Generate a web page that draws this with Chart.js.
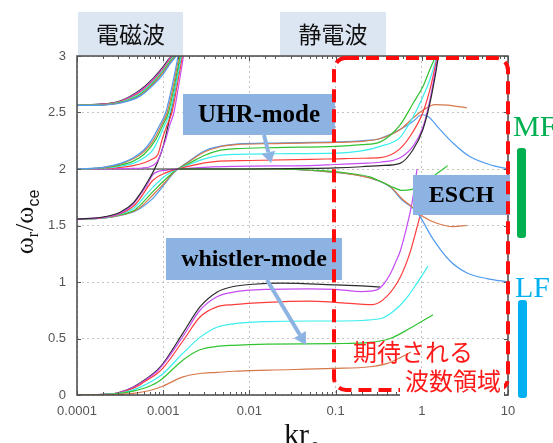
<!DOCTYPE html>
<html><head><meta charset="utf-8">
<script src="https://cdn.jsdelivr.net/npm/chart.js@4.4.0/dist/chart.umd.min.js"></script>
<style>html,body{margin:0;padding:0;background:#fff;}canvas{display:block}</style>
</head><body>
<canvas id="c" width="553" height="443"></canvas>
<script>
// ---- axis tick labels ----
const xTickLabels = ['0.0001','0.001','0.01','0.1','1','10'];
const yTickLabels = ['0','0.5','1','1.5','2','2.5','3'];

// ---- upper electromagnetic branch (starts ~2.56) : [k, w/wce] ----
const emTopBlue    = [[1e-4,2.562],[2e-4,2.566],[3.2e-4,2.584],[5.4e-4,2.645],[7.6e-4,2.74],[1e-3,2.84],[1.2e-3,2.93],[1.42e-3,3.0]];
const emTopOrange  = [[1e-4,2.563],[2e-4,2.567],[3.2e-4,2.586],[5.4e-4,2.65],[7.6e-4,2.75],[1e-3,2.855],[1.2e-3,2.94],[1.4e-3,3.0]];
const emTopGreen   = [[1e-4,2.564],[2e-4,2.568],[3.2e-4,2.589],[5.4e-4,2.66],[7.6e-4,2.76],[1e-3,2.865],[1.2e-3,2.95],[1.37e-3,3.0]];
const emTopCyan    = [[1e-4,2.565],[2e-4,2.57],[3.2e-4,2.593],[5.4e-4,2.67],[7.6e-4,2.77],[1e-3,2.875],[1.2e-3,2.96],[1.34e-3,3.0]];
const emTopRed     = [[1e-4,2.566],[2e-4,2.572],[3.2e-4,2.597],[5.4e-4,2.68],[7.6e-4,2.78],[1e-3,2.885],[1.2e-3,2.97],[1.31e-3,3.0]];
const emTopMagenta = [[1e-4,2.567],[2e-4,2.574],[3.2e-4,2.6],[5.4e-4,2.69],[7.6e-4,2.79],[1e-3,2.895],[1.2e-3,2.98],[1.28e-3,3.0]];
const emTopBlack   = [[1e-4,2.568],[2e-4,2.576],[3.2e-4,2.604],[5.4e-4,2.7],[7.6e-4,2.8],[1e-3,2.905],[1.15e-3,2.97],[1.25e-3,3.0]];

// ---- electromagnetic branch from 2.0 up to 3 ----
const emMidBlue    = [[1e-4,2.0],[2e-4,2.015],[3.2e-4,2.05],[4.5e-4,2.1],[6e-4,2.17],[7.4e-4,2.26],[9e-4,2.38],[1.07e-3,2.5],[1.28e-3,2.75],[1.49e-3,3.0]];
const emMidOrange  = [[1e-4,2.0],[2e-4,2.013],[3.2e-4,2.045],[4.5e-4,2.09],[6e-4,2.155],[7.8e-4,2.26],[9.4e-4,2.38],[1.11e-3,2.5],[1.32e-3,2.75],[1.53e-3,3.0]];
const emMidGreen   = [[1e-4,2.0],[2e-4,2.01],[3.2e-4,2.035],[4.5e-4,2.07],[6e-4,2.13],[8.2e-4,2.26],[9.8e-4,2.38],[1.15e-3,2.5],[1.36e-3,2.75],[1.57e-3,3.0]];
const emMidCyan    = [[1e-4,2.0],[2e-4,2.007],[3.2e-4,2.025],[4.5e-4,2.05],[6e-4,2.1],[7.6e-4,2.17],[8.8e-4,2.26],[1.03e-3,2.38],[1.2e-3,2.5],[1.41e-3,2.75],[1.62e-3,3.0]];
const emMidRed     = [[1e-4,2.0],[3.2e-4,2.015],[4.5e-4,2.03],[6e-4,2.055],[7.6e-4,2.09],[8.7e-4,2.13],[9.7e-4,2.26],[1.1e-3,2.38],[1.26e-3,2.5],[1.46e-3,2.75],[1.67e-3,3.0]];
const emMidMagenta = [[1e-4,2.0],[4.5e-4,2.005],[7e-4,2.02],[8.2e-4,2.05],[9e-4,2.1],[1e-3,2.2],[1.07e-3,2.26],[1.18e-3,2.38],[1.33e-3,2.5],[1.52e-3,2.75],[1.72e-3,3.0]];
const emLowBlack   = [[1e-4,1.557],[2e-4,1.575],[3.2e-4,1.62],[4.5e-4,1.7],[5.4e-4,1.78],[6.5e-4,1.88],[7.6e-4,1.97],[8.5e-4,2.05],[1e-3,2.2],[1.15e-3,2.4],[1.3e-3,2.6],[1.45e-3,2.8],[1.62e-3,3.0]];

// ---- branch from 1.55 through 2.0 into UHR mode ----
const uhrBlue    = [[1e-4,1.555],[2e-4,1.565],[3.2e-4,1.59],[4.5e-4,1.62],[5.4e-4,1.65],[7.6e-4,1.74],[1.1e-3,1.89],[1.3e-3,1.96],[1.48e-3,2.0],[2e-3,2.07],[3e-3,2.16],[4.5e-3,2.2],[7e-3,2.22],[0.02,2.23],[0.1,2.24],[0.2,2.25],[0.33,2.27],[0.56,2.35],[0.79,2.42],[1.0,2.48],[1.2,2.46],[1.5,2.38],[2.3,2.23],[3.6,2.11],[6.7,2.03],[10,2.0]];
const uhrOrange  = [[1e-4,1.555],[2e-4,1.566],[3.2e-4,1.592],[4.5e-4,1.625],[5.4e-4,1.66],[7.6e-4,1.77],[1.1e-3,1.9],[1.3e-3,1.965],[1.48e-3,2.0],[2e-3,2.065],[3e-3,2.15],[4.5e-3,2.195],[7e-3,2.215],[0.02,2.225],[0.1,2.235],[0.2,2.245],[0.33,2.27],[0.56,2.35],[0.79,2.45],[1.03,2.52],[1.42,2.57],[2.0,2.565],[3.35,2.54]];
const uhrGreen   = [[1e-4,1.556],[2e-4,1.567],[3.2e-4,1.595],[4.5e-4,1.63],[5.4e-4,1.68],[7.6e-4,1.8],[1.1e-3,1.92],[1.3e-3,1.97],[1.48e-3,2.0],[2e-3,2.05],[3e-3,2.12],[4.5e-3,2.165],[7e-3,2.18],[0.02,2.19],[0.1,2.2],[0.2,2.215],[0.33,2.24],[0.56,2.39],[0.79,2.58],[1.03,2.73],[1.24,2.88],[1.45,3.0]];
const uhrCyan    = [[1e-4,1.556],[2e-4,1.568],[3.2e-4,1.6],[4.5e-4,1.65],[5.4e-4,1.71],[7.6e-4,1.84],[1.1e-3,1.95],[1.3e-3,1.98],[1.48e-3,2.0],[2e-3,2.04],[3e-3,2.09],[4.5e-3,2.12],[7e-3,2.13],[0.02,2.135],[0.1,2.14],[0.2,2.16],[0.33,2.2],[0.56,2.28],[0.79,2.46],[1.03,2.64],[1.24,2.79],[1.5,3.0]];
const uhrRed     = [[1e-4,1.557],[2e-4,1.57],[3.2e-4,1.605],[4.5e-4,1.67],[5.4e-4,1.74],[7.6e-4,1.9],[1.1e-3,1.97],[1.3e-3,1.99],[1.48e-3,2.0],[2e-3,2.025],[3e-3,2.055],[4.5e-3,2.07],[0.01,2.075],[0.05,2.085],[0.1,2.09],[0.2,2.095],[0.33,2.1],[0.56,2.18],[0.79,2.33],[1.03,2.5],[1.24,2.7],[1.52,3.0]];
const uhrMagenta = [[1e-4,1.557],[2e-4,1.572],[3.2e-4,1.61],[4.5e-4,1.69],[5.4e-4,1.77],[6.5e-4,1.86],[7.6e-4,1.95],[8.5e-4,1.975],[1.1e-3,1.99],[1.48e-3,2.0],[3e-3,2.015],[0.01,2.025],[0.05,2.03],[0.1,2.04],[0.2,2.05],[0.33,2.06],[0.56,2.1],[0.79,2.2],[1.03,2.37],[1.24,2.61],[1.54,3.0]];
const uhrBlack   = [[1e-4,2.0],[0.01,2.0],[0.05,2.005],[0.1,2.01],[0.2,2.02],[0.33,2.03],[0.56,2.05],[0.79,2.17],[1.03,2.35],[1.24,2.58],[1.42,2.81],[1.56,3.0]];

// ---- descending ESCH branch from 2.0 ----
const eschBlue   = [[1.5e-3,2.0],[0.02,2.0],[0.07,1.98],[0.15,1.955],[0.25,1.92],[0.43,1.84],[0.6,1.72],[0.77,1.66],[0.95,1.58],[1.3,1.4],[2.1,1.19],[3.35,1.08],[5.7,1.03],[10,1.0]];
const eschOrange = [[1.5e-3,2.0],[0.02,2.0],[0.07,1.98],[0.15,1.955],[0.25,1.92],[0.43,1.845],[0.6,1.73],[0.77,1.665],[1.03,1.58],[1.5,1.52],[2.3,1.49],[3.35,1.5]];
const eschGreen  = [[1.5e-3,2.0],[0.02,2.0],[0.07,1.985],[0.15,1.96],[0.25,1.93],[0.43,1.85],[0.6,1.81],[0.77,1.82],[1.0,1.86],[1.5,1.96],[2.0,2.03]];

// ---- whistler branch (rising into ESCH at large k) ----
const wBlack   = [[1e-4,0],[1.5e-4,0.002],[3e-4,0.02],[4.5e-4,0.07],[6e-4,0.13],[8.5e-4,0.22],[1e-3,0.28],[1.7e-3,0.55],[2.67e-3,0.78],[4.2e-3,0.91],[6.5e-3,0.96],[0.011,0.98],[0.023,0.99],[0.1,0.975],[0.2,0.965],[0.33,0.955]];
const wMagenta = [[1e-4,0],[1.5e-4,0.002],[3e-4,0.02],[4.5e-4,0.068],[6e-4,0.125],[8.5e-4,0.21],[1e-3,0.27],[1.7e-3,0.52],[2.67e-3,0.75],[4.2e-3,0.87],[6.5e-3,0.91],[0.016,0.935],[0.05,0.94],[0.1,0.935],[0.2,0.915],[0.3,0.93],[0.36,0.98],[0.43,1.07],[0.5,1.18],[0.56,1.27],[0.67,1.49],[0.77,1.7],[0.83,1.86],[0.88,2.0]];
const wRed     = [[1e-4,0],[1.5e-4,0.002],[3e-4,0.018],[4.5e-4,0.06],[6e-4,0.115],[8.5e-4,0.19],[1e-3,0.24],[1.7e-3,0.48],[2.67e-3,0.69],[4.2e-3,0.78],[6.5e-3,0.8],[0.016,0.82],[0.05,0.83],[0.1,0.82],[0.27,0.8],[0.39,0.87],[0.56,1.04],[0.73,1.26],[0.85,1.44],[0.95,1.58],[1.02,1.68]];
const wCyan    = [[1e-4,0],[1.5e-4,0.002],[3e-4,0.015],[4.5e-4,0.045],[6e-4,0.085],[8.5e-4,0.15],[1e-3,0.19],[1.7e-3,0.37],[2.67e-3,0.51],[4.2e-3,0.6],[6.5e-3,0.63],[0.016,0.65],[0.05,0.655],[0.1,0.655],[0.33,0.675],[0.52,0.77],[0.7,0.88],[0.88,0.99],[1.18,1.14]];
const wGreen   = [[1e-4,0],[1.5e-4,0.001],[3e-4,0.012],[4.5e-4,0.035],[6e-4,0.06],[8.5e-4,0.11],[1e-3,0.15],[1.7e-3,0.31],[2.67e-3,0.4],[4.2e-3,0.43],[6.5e-3,0.44],[0.016,0.45],[0.1,0.455],[0.25,0.465],[0.43,0.5],[0.73,0.59],[1.35,0.71]];
const wOrange  = [[1e-4,0],[2e-4,0.002],[4.5e-4,0.015],[7e-4,0.04],[1e-3,0.08],[1.7e-3,0.16],[2.67e-3,0.19],[4.2e-3,0.2],[6.5e-3,0.21],[0.017,0.22],[0.093,0.235],[0.25,0.25],[0.4,0.28],[0.56,0.33],[0.75,0.38]];

// ---- styles ----
const C = {blue:'#4f9bf0', orange:'#d6784a', green:'#31c331', cyan:'#3aeeee', red:'#ff3c3c', magenta:'#c64cf2', black:'#2b2b2b'};

const series = [
  [emTopBlue,'blue'],[emTopOrange,'orange'],[emTopGreen,'green'],[emTopCyan,'cyan'],[emTopRed,'red'],[emTopMagenta,'magenta'],[emTopBlack,'black'],
  [emMidBlue,'blue'],[emMidOrange,'orange'],[emMidGreen,'green'],[emMidCyan,'cyan'],[emMidRed,'red'],[emMidMagenta,'magenta'],
  [uhrBlack,'black'],[emLowBlack,'black'],
  [eschGreen,'green'],[eschOrange,'orange'],[eschBlue,'blue'],
  [uhrMagenta,'magenta'],[uhrRed,'red'],[uhrCyan,'cyan'],[uhrGreen,'green'],[uhrOrange,'orange'],[uhrBlue,'blue'],
  [wOrange,'orange'],[wGreen,'green'],[wCyan,'cyan'],[wRed,'red'],[wMagenta,'magenta'],[wBlack,'black']
];

const datasets = series.map(([arr,col]) => ({
  data: arr.map(p => ({x:p[0], y:p[1]})),
  borderColor: C[col], borderWidth: 1.2, showLine: true, pointRadius: 0,
  cubicInterpolationMode: 'monotone', fill: false
}));

function isDecade(v){ const l = Math.log10(v); return Math.abs(l - Math.round(l)) < 1e-6; }

function arrow(ctx,x1,y1,x2,y2,color,w,hl,hw){
  const a = Math.atan2(y2-y1,x2-x1);
  const bx = x2-hl*Math.cos(a), by = y2-hl*Math.sin(a);
  ctx.strokeStyle=color; ctx.lineWidth=w; ctx.lineCap='butt'; ctx.setLineDash([]);
  ctx.beginPath(); ctx.moveTo(x1,y1); ctx.lineTo(bx,by); ctx.stroke();
  ctx.fillStyle=color; ctx.beginPath(); ctx.moveTo(x2,y2);
  ctx.lineTo(bx+hw*Math.sin(a), by-hw*Math.cos(a));
  ctx.lineTo(bx-hw*Math.sin(a), by+hw*Math.cos(a));
  ctx.closePath(); ctx.fill();
}
function labelBox(ctx,x,y,w,h,bg,text,font,color){
  ctx.fillStyle=bg; ctx.fillRect(x,y,w,h);
  ctx.font=font; ctx.fillStyle=color; ctx.textAlign='center'; ctx.textBaseline='middle';
  ctx.fillText(text, x+w/2, y+h/2+1);
}

const overlay = {
  id:'overlay',
  afterDraw(chart){
    const ctx = chart.ctx, a = chart.chartArea, xs = chart.scales.x, ys = chart.scales.y;
    ctx.save();
    // frame
    ctx.strokeStyle='#474747'; ctx.lineWidth=1.5; ctx.setLineDash([]);
    ctx.strokeRect(a.left, a.top, a.right-a.left, a.bottom-a.top);
    // tick marks
    ctx.lineWidth=1; ctx.strokeStyle='#555';
    xs.ticks.forEach(t => {
      const px = Math.round(xs.getPixelForValue(t.value))+0.5;
      const len = isDecade(t.value) ? 5 : 3;
      ctx.beginPath(); ctx.moveTo(px,a.bottom); ctx.lineTo(px,a.bottom-len);
      ctx.moveTo(px,a.top); ctx.lineTo(px,a.top+len); ctx.stroke();
    });
    ys.ticks.forEach(t => {
      const py = Math.round(ys.getPixelForValue(t.value))+0.5;
      ctx.beginPath(); ctx.moveTo(a.left,py); ctx.lineTo(a.left+4,py);
      ctx.moveTo(a.right,py); ctx.lineTo(a.right-4,py); ctx.stroke();
    });
    // axis titles
    ctx.fillStyle='#111'; ctx.textAlign='left'; ctx.textBaseline='alphabetic';
    // y title (rotated)
    ctx.save();
    ctx.translate(33, 0); ctx.rotate(-Math.PI/2);
    const fBig='26px "Liberation Serif"', fSub='16px "Liberation Serif"', fSubS='16px "Liberation Sans"';
    ctx.font=fBig; const w1=ctx.measureText('\u03c9').width, w3=ctx.measureText('/').width;
    ctx.font=fSub; const w2=ctx.measureText('r').width;
    ctx.font=fSubS; const w4=ctx.measureText('ce').width;
    const total = w1+w2+1+w3+w1+w4;
    let cx = -222 - total/2;
    ctx.font=fBig; ctx.fillText('\u03c9', cx, 0); cx+=w1;
    ctx.font=fSub; ctx.fillText('r', cx, 5); cx+=w2+1;
    ctx.font=fBig; ctx.fillText('/', cx, 0); cx+=w3;
    ctx.fillText('\u03c9', cx, 0); cx+=w1;
    ctx.font=fSubS; ctx.fillText('ce', cx, 6);
    ctx.restore();
    // x title
    ctx.font='30px "Liberation Serif"'; ctx.fillText('kr', 284, 444);
    ctx.font='17px "Liberation Serif"'; ctx.fillText('e', 311, 450);

    // category header boxes
    labelBox(ctx,78,12,105,43,'#dce6f2','電磁波','23px "Noto Sans CJK JP"','#111');
    labelBox(ctx,280,12,106,43,'#dce6f2','静電波','23px "Noto Sans CJK JP"','#111');

    // mode labels
    const boxBg='#8db3e2';
    labelBox(ctx,183,94,152,41,boxBg,'UHR-mode','bold 25px "Liberation Serif"','#000');
    arrow(ctx,264,135,271,163,boxBg,4,11,7);
    labelBox(ctx,166,238,176,42,boxBg,'whistler-mode','bold 24px "Liberation Serif"','#000');
    arrow(ctx,267,280,306,345,boxBg,4,12,7);
    labelBox(ctx,413,175,97,40,boxBg,'ESCH','bold 24px "Liberation Serif"','#000');

    // red dashed region
    ctx.strokeStyle='#ff0d0d'; ctx.lineWidth=4; ctx.setLineDash([13,7]);
    const rx=334, ry=58, rw=174, rh=332, r=12;
    ctx.beginPath();
    ctx.moveTo(rx+r,ry); ctx.lineTo(rx+rw-r,ry); ctx.arcTo(rx+rw,ry,rx+rw,ry+r,r);
    ctx.lineTo(rx+rw,ry+rh-r); ctx.arcTo(rx+rw,ry+rh,rx+rw-r,ry+rh,r);
    ctx.lineTo(rx+r,ry+rh); ctx.arcTo(rx,ry+rh,rx,ry+rh-r,r);
    ctx.lineTo(rx,ry+r); ctx.arcTo(rx,ry,rx+r,ry,r);
    ctx.closePath(); ctx.stroke();
    ctx.setLineDash([]);
    // expected wavenumber region text
    ctx.fillStyle='#fff'; ctx.fillRect(400,369,104,27);
    ctx.font='24px "Noto Sans CJK JP"'; ctx.fillStyle='#ff1a1a'; ctx.textAlign='left'; ctx.textBaseline='middle';
    ctx.fillText('期待される', 353, 352);
    ctx.fillText('波数領域', 405, 381);

    // MF / LF markers
    ctx.font='30px "Liberation Serif"'; ctx.textBaseline='alphabetic';
    ctx.fillStyle='#00b050'; ctx.fillText('MF', 513, 136);
    ctx.fillStyle='#00b0f0'; ctx.fillText('LF', 515, 297);
    ctx.fillStyle='#00b050'; ctx.beginPath(); ctx.roundRect(517,148,9,90,3); ctx.fill();
    ctx.fillStyle='#00b0f0'; ctx.beginPath(); ctx.roundRect(518,300,9,98,3); ctx.fill();
    ctx.restore();
  }
};

new Chart(document.getElementById('c'), {
  type:'scatter',
  data:{datasets},
  options:{
    responsive:false, animation:false, devicePixelRatio:1,
    layout:{padding:{left:0,right:45,top:56,bottom:0}},
    plugins:{legend:{display:false}, tooltip:{enabled:false}},
    scales:{
      x:{type:'logarithmic', min:1e-4, max:10,
        afterFit:s=>{s.height=48;},
        ticks:{autoSkip:false, maxRotation:0, minRotation:0, padding:9, color:'#555',
          font:{family:'Liberation Sans', size:13},
          callback:(v)=> isDecade(v) ? xTickLabels[Math.round(Math.log10(v))+4] : ''},
        grid:{color:(c)=> (c.tick && isDecade(c.tick.value)) ? '#c4c4c4' : 'rgba(0,0,0,0)', drawTicks:false, lineWidth:1},
        border:{display:false, dash:[2,3]}
      },
      y:{min:0, max:3,
        afterFit:s=>{s.width=77;},
        ticks:{stepSize:0.5, padding:11, color:'#555', font:{family:'Liberation Sans', size:13},
          callback:(v)=>{ const i=Math.round(v*2); return (Math.abs(v*2-i)<1e-6 && i>=0 && i<yTickLabels.length) ? yTickLabels[i] : ''; }},
        grid:{color:'#c4c4c4', drawTicks:false, lineWidth:1},
        border:{display:false, dash:[2,3]}
      }
    }
  },
  plugins:[overlay]
});
</script>
</body></html>
